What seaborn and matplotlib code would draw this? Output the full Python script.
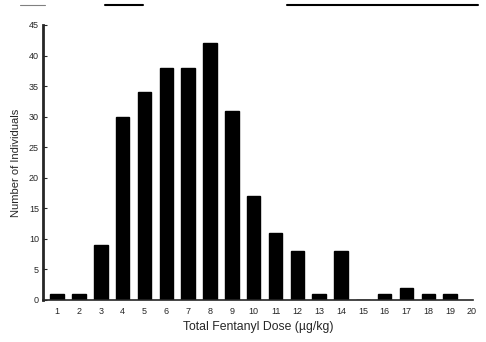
import matplotlib
matplotlib.use('Agg')
import matplotlib.pyplot as plt
import seaborn as sns
import pandas as pd
from matplotlib.lines import Line2D

doses = list(range(1, 20))
counts = [1, 1, 9, 30, 34, 38, 38, 42, 31, 17, 11, 8, 1, 8, 0, 1, 2, 1, 1]
xtick_labels = [str(i) for i in range(1, 21)]
yticks = [0, 5, 10, 15, 20, 25, 30, 35, 40, 45]

df = pd.DataFrame({'dose': doses, 'count': counts})

sns.set_style('ticks')
plt.rcParams['font.family'] = ['Liberation Sans', 'DejaVu Sans']

fig = plt.figure(figsize=(4.86, 3.42), dpi=100)
ax = fig.add_axes([0.0885, 0.123, 0.885, 0.804])

sns.barplot(data=df, x='dose', y='count', native_scale=True, color='black',
            width=0.62, edgecolor='black', saturation=1, ax=ax)

ax.set_xlim(0.35, 20.05)
ax.set_ylim(0, 45)
ax.set_xticks(range(1, 21))
ax.set_xticklabels(xtick_labels, fontsize=6.5)
ax.set_yticks(yticks)
ax.set_yticklabels([str(v) for v in yticks], fontsize=6.5)
ax.tick_params(axis='y', direction='in', length=3, width=0.8, pad=3)
ax.tick_params(axis='x', length=0, pad=5)

ax.set_xlabel('Total Fentanyl Dose (\u00b5g/kg)', fontsize=8.8, labelpad=4)
ax.set_ylabel('Number of Individuals', fontsize=8, labelpad=6)

sns.despine(ax=ax)
ax.spines['left'].set_linewidth(2)
ax.spines['bottom'].set_linewidth(1.2)

# page rule at the top of the scan
for x0, x1 in [(105, 143), (287, 478)]:
    fig.add_artist(Line2D([x0 / 486, x1 / 486], [1 - 5 / 342] * 2,
                          color='black', lw=1.5, transform=fig.transFigure))
fig.add_artist(Line2D([20 / 486, 45 / 486], [1 - 5 / 342] * 2,
                      color='gray', lw=0.8, transform=fig.transFigure))

fig.savefig('out.png', dpi=100)
